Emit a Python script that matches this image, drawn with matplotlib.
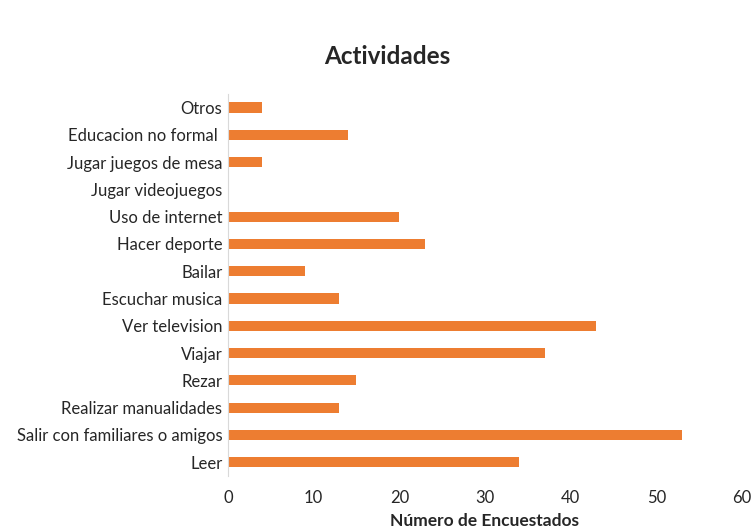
import matplotlib.pyplot as plt

categories = [
    "Leer",
    "Salir con familiares o amigos",
    "Realizar manualidades",
    "Rezar",
    "Viajar",
    "Ver television",
    "Escuchar musica",
    "Bailar",
    "Hacer deporte",
    "Uso de internet",
    "Jugar videojuegos",
    "Jugar juegos de mesa",
    "Educacion no formal ",
    "Otros",
]
values = [34, 53, 13, 15, 37, 43, 13, 9, 23, 20, 0, 4, 14, 4]
xticks = [0, 10, 20, 30, 40, 50, 60]

plt.rcParams["font.family"] = ["Lato", "DejaVu Sans"]

fig = plt.figure(figsize=(7.54, 5.3), dpi=100)
ax = fig.add_axes([0.3024, 0.102, 0.6816, 0.721])

ax.barh(range(len(categories)), values, height=0.37, color="#ED7D31")

ax.set_xlim(0, 60)
ax.set_ylim(-0.5, len(categories) - 0.5)
ax.set_xticks(xticks)
ax.set_yticks(range(len(categories)))
ax.set_yticklabels(categories)

for side in ["top", "right", "bottom"]:
    ax.spines[side].set_visible(False)
ax.spines["left"].set_color("#d9d9d9")
ax.tick_params(axis="both", length=0, colors="#262626")
ax.tick_params(axis="y", pad=4, labelsize=12)
ax.tick_params(axis="x", pad=10, labelsize=12)

ax.set_xlabel("Número de Encuestados", fontsize=12.5, fontweight="bold",
              color="#262626", labelpad=5)
fig.text(0.513, 0.893, "Actividades", fontsize=17.5, fontweight="bold",
         color="#262626", ha="center", va="center")

fig.savefig("out.png", dpi=100)
